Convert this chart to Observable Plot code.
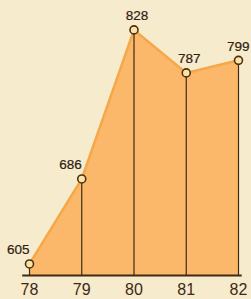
<!DOCTYPE html>
<html>
<head>
<meta charset="utf-8">
<script src="https://cdn.jsdelivr.net/npm/d3@7"></script>
<script src="https://cdn.jsdelivr.net/npm/@observablehq/plot@0.6"></script>
<style>
  html, body { margin: 0; padding: 0; background: #f6ebcc; }
  #chart { width: 251px; height: 299px; overflow: hidden; }
</style>
</head>
<body>
<div id="chart"></div>
<script>
const years = [78, 79, 80, 81, 82];
const values = [605, 686, 828, 787, 799];
const tickLabels = ["78", "79", "80", "81", "82"];

const data = years.map((year, i) => ({ year, value: values[i], label: String(values[i]) }));
const baseline = 594;
const labelStyle = { x: "year", y: "value", text: "label", dy: -14, fontSize: 13.5, fill: "#2e2012", stroke: "#2e2012", strokeWidth: 0.2 };

const plot = Plot.plot({
  width: 251,
  height: 299,
  marginLeft: 29,
  marginRight: 13,
  marginTop: 0,
  marginBottom: 24,
  style: { background: "#f6ebcc", fontFamily: "Liberation Sans, Arial, sans-serif", color: "#3b2a17" },
  x: { domain: [78, 82], axis: null },
  y: { domain: [baseline, 856], axis: null },
  marks: [
    Plot.areaY(data, { x: "year", y1: baseline, y2: "value", fill: "#fbb86a" }),
    Plot.lineY(data, { x: "year", y: "value", stroke: "#f6a747", strokeWidth: 2.5 }),
    Plot.ruleX(data, { x: "year", y1: baseline, y2: "value", stroke: "#3f2a14", strokeWidth: 1.2 }),
    Plot.ruleY([baseline], { x1: years[0] - 0.13, x2: years[years.length - 1] + 0.07, stroke: "#3f2a14", strokeWidth: 2 }),
    Plot.dot(data, { x: "year", y: "value", r: 4, fill: "#fde2a8", stroke: "#4a3212", strokeWidth: 1.6 }),
    Plot.axisX({ ticks: years, tickFormat: (d, i) => tickLabels[i], tickSize: 0, tickPadding: 8, fontSize: 16, fill: "#3b2a17", label: null }),
    Plot.text(data.slice(0, 2), { ...labelStyle, textAnchor: "end", dx: 0 }),
    Plot.text(data.slice(2, 4), { ...labelStyle, dx: 3 }),
    Plot.text(data.slice(4), { ...labelStyle, textAnchor: "end", dx: 11 })
  ]
});
document.getElementById("chart").appendChild(plot);
</script>
</body>
</html>
